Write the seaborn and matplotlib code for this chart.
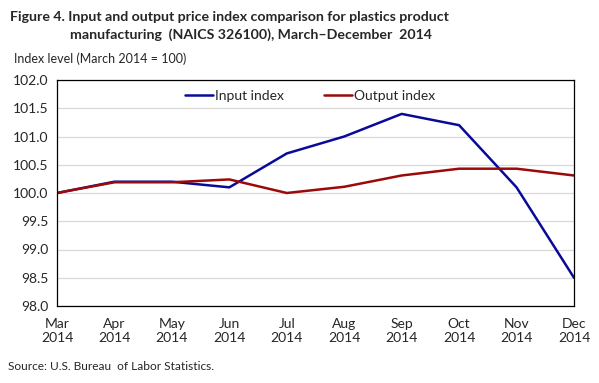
import matplotlib
matplotlib.use('Agg')
import matplotlib.pyplot as plt
import seaborn as sns
import pandas as pd

# Data
months = ['Mar', 'Apr', 'May', 'Jun', 'Jul', 'Aug', 'Sep', 'Oct', 'Nov', 'Dec']
input_index = [100.0, 100.2, 100.2, 100.1, 100.7, 101.0, 101.4, 101.2, 100.1, 98.5]
output_index = [100.0, 100.19, 100.19, 100.24, 100.0, 100.11, 100.31, 100.43, 100.43, 100.31]
y_ticks = [98.0, 98.5, 99.0, 99.5, 100.0, 100.5, 101.0, 101.5, 102.0]

df = pd.DataFrame({
    'pos': range(len(months)),
    'Input index': input_index,
    'Output index': output_index,
})
long = df.melt(id_vars='pos', var_name='series', value_name='value')

sns.set_style('white')
plt.rcParams['font.family'] = ['Lato', 'DejaVu Sans']

fig = plt.figure(figsize=(5.99, 3.83), dpi=100)
ax = fig.add_axes([57 / 599, 1 - 306 / 383, (574 - 57) / 599, (306 - 80) / 383])

sns.lineplot(data=long, x='pos', y='value', hue='series',
             palette={'Input index': '#0a0a9a', 'Output index': '#9a0a0a'},
             linewidth=1.8, ax=ax)

ax.set_xlim(0, len(months) - 1)
ax.set_ylim(98, 102)
ax.set_yticks(y_ticks)
ax.set_yticklabels([f'{v:.1f}' for v in y_ticks], fontsize=10)
ax.set_xticks(range(len(months)))
ax.set_xticklabels([f'{m}\n2014' for m in months], fontsize=10)
ax.tick_params(axis='x', direction='in', length=5, width=0.8, color='black', pad=9)
ax.tick_params(axis='y', length=0, pad=6)
ax.set_xlabel('')
ax.set_ylabel('')
ax.yaxis.grid(True, color='#d9d9d9', linewidth=0.9)
ax.set_axisbelow(True)
for s in ax.spines.values():
    s.set_color('black')
    s.set_linewidth(0.9)

leg = ax.legend(loc='upper center', ncol=2, frameon=False, fontsize=10,
                handlelength=2.0, handletextpad=0.15, columnspacing=2.9,
                bbox_to_anchor=(0.49, 1.01))
for line in leg.get_lines():
    line.set_linewidth(1.8)

fig.text(10 / 599, 1 - 17 / 383, 'Figure 4. Input and output price index comparison for plastics product',
         fontsize=10.2, fontweight='bold', va='center', ha='left')
fig.text(70 / 599, 1 - 35 / 383, 'manufacturing  (NAICS 326100), March\u2013December  2014',
         fontsize=10.2, fontweight='bold', va='center', ha='left')
fig.text(14 / 599, 1 - 59 / 383, 'Index level (March 2014 = 100)', fontsize=9,
         va='center', ha='left')
fig.text(8 / 599, 1 - 366 / 383, 'Source: U.S. Bureau  of Labor Statistics.', fontsize=8.6,
         va='center', ha='left')

fig.savefig('out.png', dpi=100)
